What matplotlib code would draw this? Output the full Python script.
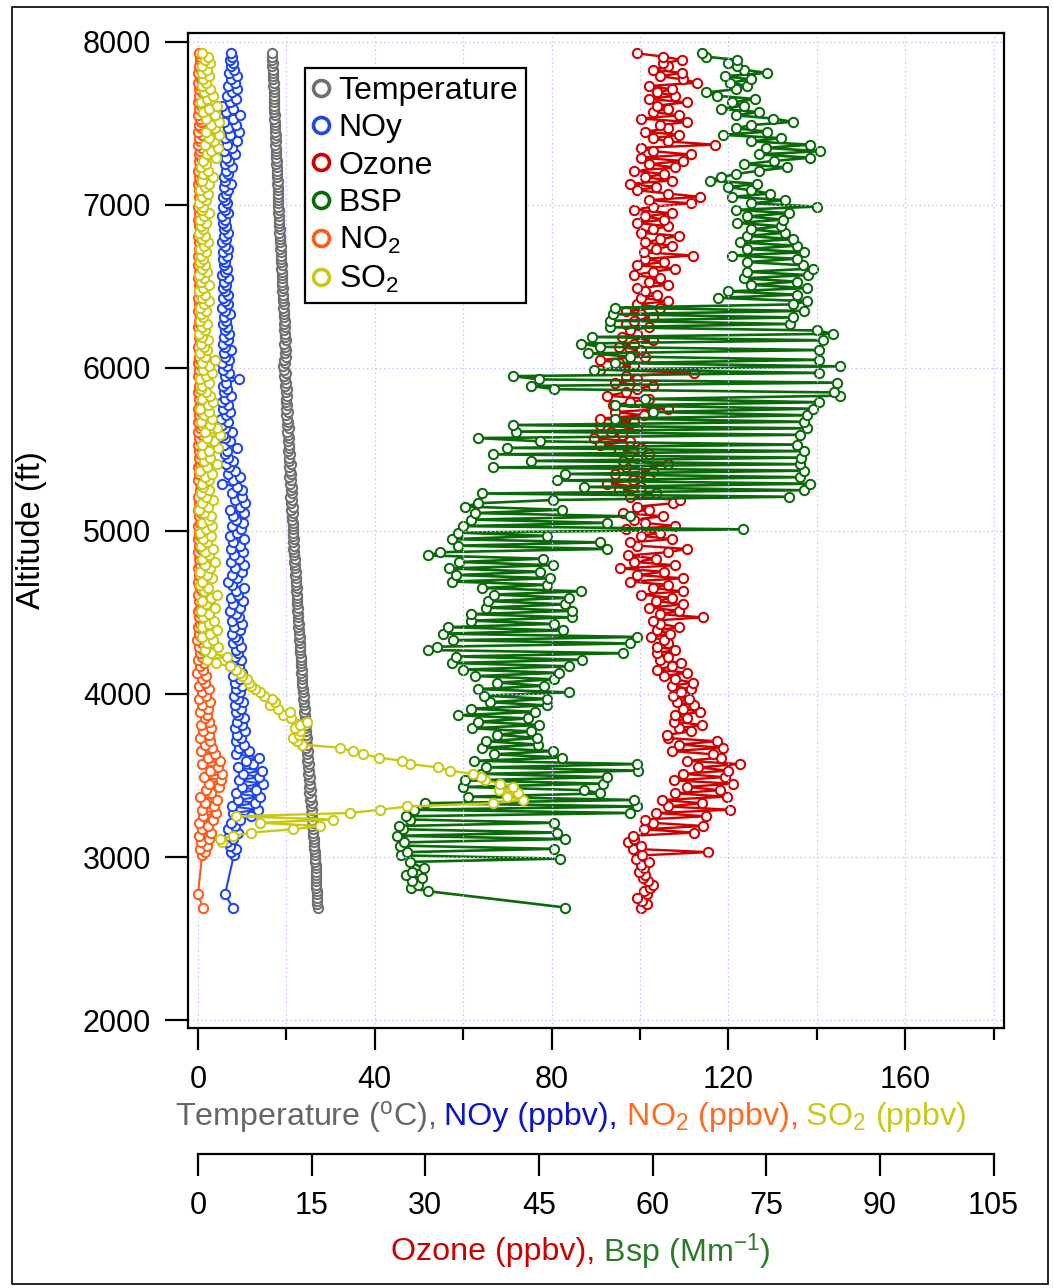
import matplotlib
matplotlib.use('Agg')
import matplotlib.pyplot as plt
import numpy as np
from matplotlib.lines import Line2D
from matplotlib.patches import Rectangle

plt.rcParams['font.family'] = ['Liberation Sans', 'DejaVu Sans']
plt.rcParams['mathtext.fontset'] = 'custom'
plt.rcParams['mathtext.rm'] = 'Liberation Sans'
plt.rcParams['mathtext.it'] = 'Liberation Sans:italic'
plt.rcParams['mathtext.bf'] = 'Liberation Sans:bold'

nan = float('nan')

# ---------------- data (altitude in ft, one sample every row entry) ----------------
altitude = [
    2690, 2710, 2730, 2750, 2770, 2790, 2810, 2830, 2850, 2870,
    2890, 2910, 2930, 2950, 2970, 2990, 3010, 3030, 3050, 3070,
    3090, 3110, 3130, 3150, 3170, 3190, 3210, 3230, 3250, 3270,
    3290, 3310, 3330, 3350, 3370, 3390, 3410, 3430, 3450, 3470,
    3490, 3510, 3530, 3550, 3570, 3590, 3610, 3630, 3650, 3670,
    3690, 3710, 3730, 3750, 3770, 3790, 3810, 3830, 3850, 3870,
    3890, 3910, 3930, 3950, 3970, 3990, 4010, 4030, 4050, 4070,
    4090, 4110, 4130, 4150, 4170, 4190, 4210, 4230, 4250, 4270,
    4290, 4310, 4330, 4350, 4370, 4390, 4410, 4430, 4450, 4470,
    4490, 4510, 4530, 4550, 4570, 4590, 4610, 4630, 4650, 4670,
    4690, 4710, 4730, 4750, 4770, 4790, 4810, 4830, 4850, 4870,
    4890, 4910, 4930, 4950, 4970, 4990, 5010, 5030, 5050, 5070,
    5090, 5110, 5130, 5150, 5170, 5190, 5210, 5230, 5250, 5270,
    5290, 5310, 5330, 5350, 5370, 5390, 5410, 5430, 5450, 5470,
    5490, 5510, 5530, 5550, 5570, 5590, 5610, 5630, 5650, 5670,
    5690, 5710, 5730, 5750, 5770, 5790, 5810, 5830, 5850, 5870,
    5890, 5910, 5930, 5950, 5970, 5990, 6010, 6030, 6050, 6070,
    6090, 6110, 6130, 6150, 6170, 6190, 6210, 6230, 6250, 6270,
    6290, 6310, 6330, 6350, 6370, 6390, 6410, 6430, 6450, 6470,
    6490, 6510, 6530, 6550, 6570, 6590, 6610, 6630, 6650, 6670,
    6690, 6710, 6730, 6750, 6770, 6790, 6810, 6830, 6850, 6870,
    6890, 6910, 6930, 6950, 6970, 6990, 7010, 7030, 7050, 7070,
    7090, 7110, 7130, 7150, 7170, 7190, 7210, 7230, 7250, 7270,
    7290, 7310, 7330, 7350, 7370, 7390, 7410, 7430, 7450, 7470,
    7490, 7510, 7530, 7550, 7570, 7590, 7610, 7630, 7650, 7670,
    7690, 7710, 7730, 7750, 7770, 7790, 7810, 7830, 7850, 7870,
    7890, 7910, 7930]

temperature = [
    27.1, 27.0, 27.0, 26.9, 26.9, 26.9, 26.8, 26.8, 26.8, 26.7,
    26.7, 26.6, 26.6, 26.6, 26.5, 26.5, 26.4, 26.4, 26.3, 26.3,
    26.2, 26.2, 26.1, 26.0, 26.1, 25.9, 26.0, 25.7, 25.9, 25.6,
    25.8, 25.5, 25.7, 25.3, 25.6, 25.2, 25.5, 25.1, 25.4, 25.0,
    25.3, 24.9, 25.2, 24.8, 25.0, 24.7, 24.9, 24.6, 24.8, 24.5,
    24.7, 24.4, 24.6, 24.4, 24.5, 24.3, 24.4, 24.2, 24.2, 24.1,
    24.0, 24.1, 23.9, 24.0, 23.8, 23.9, 23.7, 23.8, 23.6, 23.6,
    23.5, 23.6, 23.4, 23.5, 23.3, 23.4, 23.2, 23.3, 23.1, 23.1,
    23.0, 23.1, 22.9, 23.0, 22.8, 22.9, 22.7, 22.8, 22.6, 22.7,
    22.6, 22.5, 22.6, 22.4, 22.5, 22.3, 22.4, 22.2, 22.3, 22.2,
    22.1, 22.2, 22.0, 22.1, 21.9, 22.0, 21.8, 21.9, 21.7, 21.8,
    21.6, 21.8, 21.5, 21.7, 21.4, 21.6, 21.5, 21.4, 21.5, 21.3,
    21.2, 21.4, 21.1, 21.5, 21.0, 21.3, 20.9, 21.2, 21.0, 21.3,
    20.9, 21.1, 20.7, 21.0, 20.8, 20.6, 21.0, 20.7, 20.5, 20.8,
    20.4, 20.7, 20.5, 20.3, 20.6, 20.4, 20.2, 20.5, 20.1, 20.4,
    20.2, 20.0, 20.4, 19.9, 20.2, 20.0, 19.8, 20.1, 19.9, 20.1,
    19.7, 19.9, 19.6, 19.5, 19.8, 19.4, 19.3, 19.7, 19.5, 19.8,
    19.6, 19.9, 19.7, 19.5, 19.8, 19.6, 19.7, 19.5, 19.6, 19.4,
    19.6, 19.5, 19.4, 19.5, 19.3, 19.4, 19.2, 19.3, 19.3, 19.1,
    19.2, 19.0, 19.1, 19.0, 18.9, 19.0, 18.8, 18.9, 18.8, 18.7,
    18.8, 18.7, 18.6, 18.7, 18.6, 18.5, 18.6, 18.4, 18.5, 18.4,
    18.3, 18.4, 18.3, 18.2, 18.3, 18.2, 18.1, 18.2, 18.1, 18.0,
    18.0, 18.1, 17.9, 18.0, 17.9, 17.8, 17.9, 17.8, 17.7, 17.8,
    17.7, 17.6, 17.7, 17.6, 17.5, 17.6, 17.5, 17.6, 17.4, 17.5,
    17.4, 17.5, 17.3, 17.4, 17.3, 17.2, 17.3, 17.2, 17.3, 17.1,
    17.2, 17.1, 17.0, 17.1, 17.0, 16.9, 17.0, 16.9, 16.8, 16.9,
    16.8, 16.7, 16.7]

noy = [
    7.9, nan, nan, nan, 6.1, nan, nan, nan, nan, nan,
    nan, nan, nan, nan, nan, nan, 8.1, 7.4, 8.6, 7.2,
    6.5, 8.0, 7.0, 9.0, 6.8, 8.4, 7.5, 9.5, 12.0, 8.0,
    13.5, 7.8, 12.8, 9.0, 14.0, 8.5, 13.2, 10.0, 14.6, 9.2,
    13.8, 10.2, 14.5, 9.0, 12.5, 10.8, 13.9, 8.7, 11.5, 9.3,
    10.4, 8.5, 9.7, 8.9, 10.6, 8.4, 9.9, 8.8, 10.3, 9.1,
    8.6, 9.8, 8.3, 10.2, 9.0, 8.1, 9.6, 8.7, 10.0, 8.4,
    9.4, 8.0, 9.9, 8.6, 9.2, 7.8, 9.7, 8.3, 9.0, 8.5,
    9.8, 7.9, 9.1, 8.4, 7.6, 9.5, 8.2, 10.0, 7.7, 9.3,
    8.5, 7.3, 9.6, 8.0, 10.2, 7.5, 9.1, 8.7, 10.4, 7.8,
    6.9, 8.8, 7.6, 9.9, 8.3, 10.3, 7.4, 9.2, 8.1, 10.1,
    7.5, 9.4, 8.0, 10.5, 7.2, 8.9, 9.7, 7.8, 10.2, 8.6,
    8.0, 10.4, 7.3, 9.6, 10.6, 8.4, 9.9, 7.6, 10.0, 8.8,
    5.4, 7.9, 9.5, 6.8, 8.3, 7.1, 6.4, 8.0, 6.9, 6.0,
    6.6, 8.8, 5.9, 7.3, 6.2, 5.6, 7.6, 6.0, 5.5, 6.9,
    5.3, 6.3, 7.2, 5.7, 6.8, 5.4, 6.1, 7.4, 5.8, 6.5,
    5.6, 6.4, 9.3, 6.0, 7.1, 5.7, 6.6, 5.5, 7.0, 6.1,
    5.9, 7.4, 6.2, 5.6, 6.8, 5.8, 7.1, 6.0, 6.5, 5.7,
    6.3, 5.8, 7.2, 6.1, 5.5, 6.7, 6.0, 5.6, 6.9, 6.2,
    5.7, 6.4, 5.9, 6.8, 5.5, 6.2, 6.6, 5.8, 6.1, 5.6,
    6.5, 5.7, 6.9, 6.0, 5.4, 6.3, 5.8, 6.7, 5.9, 6.4,
    5.6, 6.2, 5.5, 6.8, 6.0, 5.7, 6.5, 6.1, 5.6, 6.3,
    6.7, 5.9, 7.4, 6.2, 5.8, 6.9, 6.3, 7.8, 6.0, 7.1,
    6.4, 8.4, 5.9, 7.6, 6.6, 8.9, 6.1, 7.3, 9.2, 6.8,
    8.5, 5.8, 7.9, 9.4, 6.3, 8.0, 5.5, 7.2, 8.7, 6.6,
    7.8, 8.9, 6.9, 8.3, 7.5, 8.8, 7.0, 8.1, 7.4, 7.9,
    7.3, 7.7, 7.5]

ozone = [
    58.4, 59.3, 58.6, 58.0, 59.2, 58.8, 59.7, 60.0, 59.4, 58.7,
    59.0, 58.2, 58.9, 58.4, 59.5, 57.8, 58.6, 67.3, 57.4, 58.5,
    56.7, 57.6, 57.4, 65.5, 58.8, 66.7, 60.0, 59.0, 67.0, 60.5,
    70.2, 62.0, 66.5, 61.3, 69.8, 63.0, 68.9, 64.5, 70.6, 62.8,
    69.5, 64.0, 70.0, 66.0, 71.5, 64.5, 69.0, 68.0, 62.5, 69.3,
    63.5, 68.5, 62.0, 61.9, 65.0, 63.5, 66.5, 62.8, 64.5, 63.0,
    66.3, 64.0, 65.5, 63.2, 64.8, 62.7, 63.8, 65.0, 62.5, 65.3,
    63.0, 61.5, 64.5, 60.6, 62.5, 63.8, 61.0, 62.0, 60.6, 63.0,
    60.6, 62.0, 61.5, 59.8, 62.3, 60.6, 63.5, 61.0, 60.0, 66.7,
    61.0, 63.5, 59.5, 64.0, 60.5, 62.5, 58.5, 64.0, 60.0, 62.0,
    57.0, 64.0, 58.0, 61.5, 55.7, 63.0, 57.5, 60.5, 56.8, 62.0,
    64.6, 58.0, 57.0, 62.5, 58.5, 61.0, 56.5, 63.0, 59.0, 57.5,
    61.4, 56.1, 59.5, 58.0, 62.7, 63.6, 57.0, 60.5, 55.5, 58.5,
    54.0, 57.4, 59.5, 55.0, 60.0, 56.5, 62.0, 56.1, 58.0, 59.5,
    55.5, 58.5, 53.0, 57.0, 52.2, 56.0, 54.5, 58.0, 53.0, 57.5,
    53.0, 58.8, 55.0, 62.0, 54.8, 57.0, 59.5, 54.0, 56.5, 58.0,
    60.0, 55.0, 58.0, 56.5, 65.4, 53.0, 57.5, 55.5, 53.0, 59.0,
    56.0, 58.5, 55.5, 57.5, 60.0, 56.0, 58.0, 57.0, 59.5, 56.5,
    57.5, 60.0, 58.5, 56.5, 61.0, 58.0, 62.0, 58.5, 60.6, 59.0,
    58.0, 62.0, 59.5, 61.0, 57.5, 60.0, 63.0, 58.0, 61.5, 59.0,
    65.3, 58.8, 60.5, 62.5, 59.0, 61.0, 63.5, 58.5, 60.0, 62.0,
    58.0, 61.5, 59.0, 62.5, 57.5, 60.0, 65.0, 59.5, 66.3, 62.0,
    58.0, 60.5, 57.0, 62.5, 59.0, 61.5, 57.5, 63.0, 59.5, 64.0,
    58.4, 65.0, 60.0, 58.4, 68.2, 62.0, 60.0, 63.5, 59.0, 62.0,
    61.0, 64.6, 58.4, 63.5, 60.0, 62.0, 60.6, 64.5, 59.5, 63.0,
    60.6, 62.5, 59.5, 65.9, 64.0, 61.0, 63.9, 60.0, 62.0, 61.4,
    63.9, 61.4, 58.0]

bsp = [
    48.5, nan, nan, nan, nan, 30.4, 28.1, 29.0, 28.2, 29.5,
    27.4, 28.3, 29.8, nan, 28.0, 47.8, 26.8, 27.6, 47.0, 26.6,
    27.2, 48.5, 26.3, 47.4, 27.0, 26.5, 47.0, 28.0, 27.5, 57.0,
    28.5, 58.0, 30.0, 57.5, 35.6, 53.1, 51.0, 35.0, 53.4, 35.3,
    54.0, 37.3, 58.1, 38.0, 58.0, 36.4, 48.1, 39.0, 46.9, 37.5,
    44.9, 38.0, 44.8, 39.5, 44.0, 36.1, 45.0, 37.0, 43.5, 34.3,
    44.5, 36.0, 46.0, 38.5, 46.1, 37.7, 48.9, 37.0, 45.6, 39.5,
    47.0, 36.6, 47.6, 35.0, 49.0, 33.5, 50.7, 34.0, 56.1, 30.4,
    31.5, 57.0, 33.7, 58.0, 32.4, 48.2, 33.0, 47.0, 36.0, 49.4,
    36.0, 49.4, 38.0, 48.5, 38.3, 48.9, 39.0, 50.5, 37.5, 46.0,
    33.5, 46.5, 34.0, 45.2, 33.1, 46.8, 34.5, 45.5, 30.4, 32.0,
    54.0, 34.3, 53.0, 33.5, 46.0, 34.3, 71.9, 35.0, 54.0, 36.0,
    57.0, 36.6, 48.0, 35.3, 37.0, 46.8, 78.0, 37.5, 80.0, 51.0,
    80.8, 47.4, 79.5, 48.5, 80.0, 38.9, 79.4, 44.0, 79.6, 38.9,
    80.0, 40.8, 79.0, 45.2, 36.9, 79.5, 42.0, 80.4, 41.6, 80.0,
    55.0, 80.4, 60.0, 81.2, 55.0, 82.0, 59.0, 84.7, 84.0, 47.0,
    43.9, 84.3, 45.0, 41.6, 82.0, 52.2, 84.7, 55.0, 82.0, 57.0,
    51.5, 82.0, 53.0, 50.5, 82.5, 52.0, 83.8, 81.7, 54.4, 78.1,
    54.4, 78.5, 54.8, 80.0, 55.0, 78.5, 80.4, 68.6, 79.0, 70.0,
    80.4, 73.0, 79.0, 72.0, 80.5, 72.5, 81.2, 79.8, 72.5, 79.0,
    70.5, 80.0, 72.5, 79.0, 71.5, 78.5, 72.5, 77.5, 73.0, 77.0,
    71.1, 77.2, 72.5, 78.0, 71.0, 81.7, 73.0, 77.5, 70.5, 75.5,
    73.0, 70.0, 73.8, 67.6, 69.0, 71.0, 74.0, 77.7, 72.0, 76.0,
    80.8, 74.0, 82.1, 75.0, 80.8, 73.0, 77.0, 69.3, 75.1, 71.0,
    73.0, 78.5, 75.9, 71.0, 74.0, 69.0, 72.0, 70.5, 73.5, 68.5,
    67.0, 71.0, 72.5, 70.2, 73.0, 69.5, 75.1, 72.0, 71.1, 70.0,
    71.1, 67.0, 66.5]

no2 = [
    1.1, nan, nan, nan, 0.0, nan, nan, nan, nan, nan,
    nan, nan, nan, nan, nan, nan, 0.9, 1.6, 0.4, 2.0,
    0.6, 2.4, 0.2, 3.0, 1.0, 2.2, 0.3, 3.4, 1.2, 4.0,
    0.8, 3.6, 1.5, 4.2, 0.5, 3.0, 1.8, 4.8, 2.6, 5.2,
    1.4, 5.4, 2.8, 4.6, 0.9, 5.0, 2.2, 3.8, 0.6, 3.2,
    1.6, 2.8, 0.4, 2.4, 1.2, 3.0, 0.7, 2.6, 1.5, 2.0,
    0.5, 2.2, 1.0, 2.8, 0.3, 1.8, 0.9, 2.4, 0.2, 1.5,
    0.8, 1.9, -0.3, 1.2, 0.5, 1.4, 0.1, 0.9, 0.4, 1.1,
    0.2, 0.9, -0.2, 0.6, 0.3, 1.0, 0.0, 0.5, 0.8, 0.2,
    0.7, 0.1, 0.5, 1.0, 0.3, 0.6, 0.0, 0.8, 0.4, 0.2,
    0.1, 0.6, 0.3, 0.9, 0.0, 0.4, 1.1, 0.2, 0.5, 0.0,
    0.6, 0.2, 0.9, 0.1, 0.5, 0.3, 0.8, 0.0, 0.4, 0.7,
    0.2, 0.6, 0.0, 0.9, 0.3, 0.5, 0.1, 0.7, 0.4, 1.0,
    0.5, 0.1, 0.8, 0.3, 0.6, 0.0, 0.4, 0.9, 0.2, 0.5,
    0.3, 0.7, 0.1, 0.5, 0.2, 0.8, 0.0, 0.4, 0.6, 0.1,
    0.5, 0.2, 0.7, 0.0, 0.4, 0.9, 0.3, 0.6, 0.1, 0.5,
    0.2, 0.8, 0.4, 0.0, 0.6, 0.3, 0.7, 0.1, 0.5, 0.2,
    0.6, 0.3, 0.0, 0.8, 0.4, 0.2, 0.7, 0.5, 0.1, 0.4,
    0.3, 0.5, 0.9, 0.1, 0.6, 0.2, 0.4, 0.0, 0.7, 0.3,
    0.8, 0.2, 0.5, 0.0, 0.6, 0.3, 0.9, 0.1, 0.4, 0.7,
    0.0, 0.5, 0.2, 0.8, 0.3, 0.6, 0.1, 0.4, 0.9, 0.2,
    0.5, 0.0, 0.7, 0.3, 0.6, 0.1, 0.8, 0.4, 0.2, 0.6,
    0.3, 0.9, 0.1, 0.5, 0.2, 0.7, 0.0, 0.4, 0.8, 0.3,
    0.6, 0.2, 0.4, 1.0, 0.1, 0.5, 0.3, 0.8, 0.0, 0.6,
    0.2, 0.7, 0.4, 0.0, 0.9, 0.3, 0.6, 0.1, 0.5, 0.2,
    0.8, 0.3, 0.5, 0.1, 0.7, 0.4, 0.0, 0.6, 0.2, 0.9,
    0.4, 0.5, 0.3]

so2 = [
    nan, nan, nan, nan, nan, nan, nan, nan, nan, nan,
    nan, nan, nan, nan, nan, nan, nan, nan, nan, nan,
    5.4, 5.0, 7.9, 12.0, 21.5, 27.6, 14.0, 30.5, 8.5, 34.4,
    41.2, 47.3, 66.7, 73.5, 69.9, 72.4, 68.0, 71.3, 68.3, 65.0,
    64.0, 62.2, 57.0, 54.3, 48.0, 46.2, 41.0, 37.3, 35.0, 32.1,
    23.5, 22.5, 21.5, 22.8, 23.0, 22.0, 23.0, 24.7, 21.0, 19.2,
    20.8, 18.0, 16.3, 17.5, 16.7, 15.0, 14.0, 13.0, 12.0, 11.5,
    11.0, 10.0, 9.5, 8.5, 7.2, 4.0, 2.0, 6.5, 3.0, 1.5,
    4.5, 2.0, 3.5, 1.0, 2.8, 4.2, 0.8, 2.4, 3.6, 1.2,
    2.6, 0.6, 3.8, 1.8, 0.9, 3.0, 4.4, 1.4, 2.2, 0.5,
    1.0, 3.2, 2.0, 0.4, 2.8, 1.5, 3.9, 0.8, 2.4, 1.6,
    3.3, 0.7, 2.1, 1.2, 2.9, 0.5, 1.8, 3.1, 1.0, 2.5,
    3.0, 1.4, 0.3, 2.2, 1.0, 3.4, 1.7, 0.6, 2.6, 1.2,
    0.8, 2.4, 1.5, 3.2, 0.4, 2.0, 4.2, 1.3, 2.8, 0.9,
    2.4, 4.6, 1.0, 3.6, 2.0, 5.0, 1.5, 4.2, 2.8, 0.7,
    3.1, 1.3, 2.6, 0.5, 2.2, 3.4, 1.0, 2.8, 1.8, 0.6,
    1.0, 2.6, 0.5, 1.8, 3.2, 1.2, 2.5, 0.8, 3.8, 1.6,
    0.4, 2.0, 1.4, 0.6, 2.2, 1.0, 0.3, 1.6, 0.9, 2.0,
    0.5, 1.2, 0.7, 1.8, 0.4, 1.3, 2.4, 0.8, 1.5, 0.2,
    1.1, 2.6, 0.6, 1.4, 0.3, 2.0, 0.9, 1.6, 0.5, 1.2,
    0.7, 1.8, 0.4, 1.3, 2.2, 0.8, 1.5, 0.2, 1.1, 0.6,
    1.9, 0.5, 1.4, 2.5, 0.8, 1.2, 0.3, 1.7, 1.0, 2.2,
    0.5, 1.6, 2.6, 1.0, 3.5, 1.2, 2.2, 0.6, 1.8, 1.1,
    4.0, 2.0, 3.0, 4.5, 1.5, 3.6, 2.4, 4.8, 1.8, 3.8,
    3.0, 4.8, 1.8, 3.8, 1.2, 2.6, 4.2, 0.6, 2.0, 3.3,
    1.4, 2.8, 0.8, 1.9, 1.2, 2.4, 0.9, 2.0, 1.0, 2.7,
    1.6, 2.2, 1.0]

series_names = ['Temperature', 'NOy', 'Ozone', 'BSP', 'NO$_2$', 'SO$_2$']
x1_major = [0, 40, 80, 120, 160]
x1_minor = [20, 60, 100, 140, 180]
x2_ticks = [0, 15, 30, 45, 60, 75, 90, 105]
y_ticks = [2000, 3000, 4000, 5000, 6000, 7000, 8000]

for _s in (temperature, noy, ozone, bsp, no2, so2):
    assert len(_s) == len(altitude), len(_s)

# ---------------- styles ----------------
C_TEMP = '#707070'
C_NOY = '#1f45ec'
C_O3 = '#d00000'
C_BSP = '#0a6a0a'
C_NO2 = '#ff5a1a'
C_SO2 = '#c9c914'

W, H = 1053, 1288
fig = plt.figure(figsize=(W / 100, H / 100), dpi=100)
fig.patch.set_facecolor('white')

L, R, T, B = 188, 1004, 33, 1028
ax = fig.add_axes([L / W, 1 - B / H, (R - L) / W, (B - T) / H])
x0px, pxu = 198.0, 4.42
xl = ((L - x0px) / pxu, (R - x0px) / pxu)
ax.set_xlim(*xl)
ax.set_ylim(1951, 8055)

ax2 = ax.twiny()
ax2.set_xlim(xl[0] * 105 / 180, xl[1] * 105 / 180)
ax.set_zorder(3)
ax2.set_zorder(2)
ax.patch.set_visible(False)

alt = np.array(altitude, dtype=float)


def draw(axis, vals, color, lw, z):
    v = np.array(vals, dtype=float)
    m = ~np.isnan(v)
    axis.plot(v[m], alt[m], '-', color=color, lw=lw, marker='o', ms=6.7,
              mfc='white', mec=color, mew=1.45, zorder=z)


draw(ax2, ozone, C_O3, 1.7, 3)
draw(ax2, bsp, C_BSP, 1.9, 4)
draw(ax, temperature, C_TEMP, 0.8, 3)
draw(ax, noy, C_NOY, 1.5, 4)
draw(ax, no2, C_NO2, 1.5, 5)
draw(ax, so2, C_SO2, 1.7, 6)

# grid
ax.set_xticks(x1_major)
ax.set_xticks(x1_minor, minor=True)
ax.set_yticks(y_ticks)
ax.grid(True, which='both', axis='x', color='#c4c4ff', ls=(0, (1.2, 2.2)), lw=0.9)
ax.grid(True, which='major', axis='y', color='#c4c4ff', ls=(0, (1.2, 2.2)), lw=0.9)

for s in ax.spines.values():
    s.set_linewidth(1.6)
    s.set_color('black')

ax.tick_params(axis='y', which='major', direction='out', length=16.5, width=1.6,
               pad=10, labelsize=22, right=False)
ax.tick_params(axis='x', which='major', direction='out', length=15.8, width=1.6,
               pad=11, labelsize=22, top=False)
ax.tick_params(axis='x', which='minor', direction='out', length=8.6, width=1.6, top=False)

# second axis (ozone / bsp)
ax2.xaxis.tick_bottom()
ax2.set_xticks(x2_ticks)
for k in ['top', 'left', 'right']:
    ax2.spines[k].set_visible(False)
ax2.spines['bottom'].set_visible(True)
ax2.spines['bottom'].set_position(('outward', 90.7))
ax2.spines['bottom'].set_bounds(0, 105)
ax2.spines['bottom'].set_linewidth(1.6)
ax2.tick_params(axis='x', which='major', direction='out', length=15.8, width=1.6,
                pad=11, labelsize=22, top=False, bottom=True, labeltop=False, labelbottom=True)

# y label
ax.set_ylabel('Altitude (ft)', fontsize=23.5)
ax.yaxis.set_label_coords((47 - L) / (R - L), 0.5)

# legend
handles = [Line2D([], [], ls='none', marker='o', ms=11.5, mfc='white', mew=2.6, mec=c)
           for c in [C_TEMP, C_NOY, C_O3, C_BSP, C_NO2, C_SO2]]
leg = ax.legend(handles, series_names, loc='upper left',
                bbox_to_anchor=((305 - L) / (R - L), 1 - (68 - T) / (B - T)),
                borderaxespad=0, fontsize=23, handlelength=0.5, handletextpad=0.3,
                labelspacing=0.23, borderpad=0.25, frameon=True, fancybox=False,
                edgecolor='black', framealpha=1)
leg.get_frame().set_linewidth(1.6)


# coloured multi-part axis titles
def colored_title(pieces, xc_px, yc_px, fs):
    r = fig.canvas.get_renderer()
    texts, widths = [], []
    for s, c in pieces:
        t = fig.text(0, 1 - yc_px / H, s, color=c, fontsize=fs, ha='left', va='center')
        widths.append(t.get_window_extent(r).width)
        texts.append(t)
    x = xc_px - sum(widths) / 2
    for t, w in zip(texts, widths):
        t.set_x(x / W)
        x += w


colored_title([(r'Temperature ($^{\mathrm{o}}$C),', '#666666'),
               (' NOy (ppbv),', '#0a14c8'),
               (r' NO$_2$ (ppbv),', '#ff6a1e'),
               (r' SO$_2$ (ppbv)', '#c8c81e')], 571, 1117, 23.2)
colored_title([('Ozone (ppbv),', '#cc0000'),
               (r' Bsp (Mm$^{\mathrm{-1}}$)', '#2a7a2a')], 581, 1252, 23.2)

# outer border
fig.patches.append(Rectangle((12 / W, 1 - 1284 / H), (1048 - 12) / W, (1284 - 7) / H,
                             transform=fig.transFigure, fill=False, lw=1.2, ec='black'))

fig.savefig('out.png', dpi=100, facecolor='white')
